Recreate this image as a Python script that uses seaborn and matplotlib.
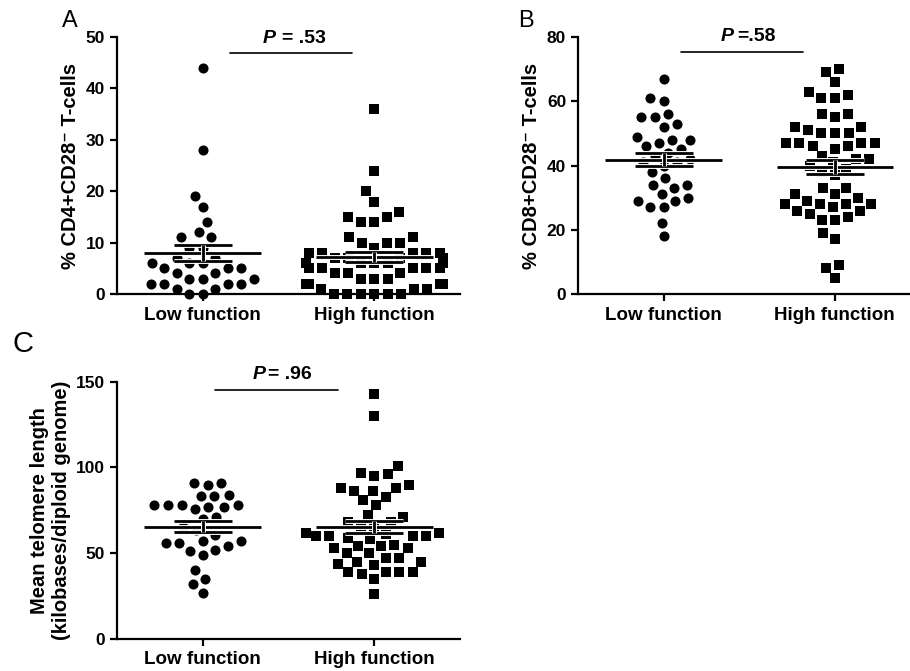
"""
Column scatter plots (mean +/- SEM) for low vs high function groups.
Panels: A = CD4+CD28- T-cells, B = CD8+CD28- T-cells, C = telomere length.
"""
import numpy as np
import pandas as pd
import matplotlib
matplotlib.use("Agg")
import matplotlib.pyplot as plt
import matplotlib.patheffects as pe
from matplotlib.path import Path
import seaborn as sns

GROUPS = ["Low function", "High function"]

CD4_LOW = [44, 28, 19, 17, 14, 12, 11, 11, 9, 9, 7, 7, 6, 6, 6, 5, 5, 5,
           4, 4, 3, 3, 3, 2, 2, 2, 2, 1, 1, 0, 0]
CD4_HIGH = [36, 24, 20, 18, 16, 15, 15, 14, 14, 11, 11, 10, 10, 10, 9,
            8, 8, 8, 8, 8, 7, 7, 7, 7, 6, 6, 6, 6, 6, 6, 5, 5, 5, 5, 5,
            4, 4, 4, 3, 3, 3, 2, 2, 2, 2, 2, 1, 1, 1, 0, 0, 0, 0, 0, 0]

CD8_LOW = [67, 61, 60, 56, 55, 55, 53, 52, 49, 48, 48, 47, 46, 45, 44, 43,
           42, 41, 41, 40, 38, 36, 34, 34, 33, 31, 30, 29, 29, 27, 27, 22, 18]
CD8_HIGH = [70, 69, 66, 63, 62, 61, 61, 56, 56, 55, 52, 52, 51, 50, 50, 50,
            47, 47, 47, 47, 46, 46, 45, 43, 42, 42, 41, 40, 39, 38, 37,
            33, 33, 31, 31, 30, 29, 28, 28, 28, 28, 27, 26, 26, 25, 24, 23,
            23, 19, 17, 9, 8, 5]

TL_LOW = [91, 90, 91, 84, 83.5, 83.5, 78, 78, 77, 76, 77, 78, 78, 71, 70,
          65.5, 63.5, 60.5, 57, 56, 52, 49, 51.5, 54, 56, 57, 40, 35, 32, 27]
TL_HIGH = [143, 130, 101, 97, 96, 95, 90, 88, 88, 86.5, 86, 83, 81, 78, 72,
           71, 68, 68, 65.5, 65.5, 61.5, 61.5, 60, 60, 60, 60, 61, 59, 58,
           55, 54, 54, 53, 53, 50, 50, 47, 47, 45, 45, 44, 43, 39, 39, 39,
           39, 38, 35, 26]

P_VALUES = ["= .53", "=.58", "= .96"]

HALO = [pe.withStroke(linewidth=3.5, foreground="white")]
SWARM_SIZE = 9.3    # spacing used by the swarm layout
SHRINK = 0.78       # drawn marker is this fraction of the layout size


def _padded_marker(kind):
    # marker drawn smaller than its nominal size, so the swarm leaves gaps
    pad_v = [(-1, -1), (1, 1)]
    pad_c = [Path.MOVETO, Path.MOVETO]
    if kind == "o":
        circ = Path.unit_circle()
        verts = list(circ.vertices * SHRINK) + pad_v
        codes = list(circ.codes) + pad_c
    else:
        s = SHRINK
        verts = [(-s, -s), (s, -s), (s, s), (-s, s), (-s, -s)] + pad_v
        codes = [Path.MOVETO, Path.LINETO, Path.LINETO, Path.LINETO,
                 Path.CLOSEPOLY] + pad_c
    return Path(verts, codes)


def draw_panel(ax, low, high, ymax, ystep, ylabel, p_text, p_line, p_y, xmax=1.5):
    for vals, grp, marker in ((low, GROUPS[0], "o"), (high, GROUPS[1], "s")):
        df = pd.DataFrame({"group": grp, "value": vals})
        sns.swarmplot(data=df, x="group", y="value", order=GROUPS, color="black",
                      marker=_padded_marker(marker), size=SWARM_SIZE,
                      linewidth=0, ax=ax)
    for coll in ax.collections:
        coll.set_clip_on(False)

    # mean +/- SEM
    for i, vals in enumerate((low, high)):
        v = np.asarray(vals, dtype=float)
        m = v.mean()
        sem = v.std(ddof=1) / np.sqrt(len(v))
        kw = dict(color="black", linewidth=2, path_effects=HALO, zorder=5)
        ax.hlines(m, i - 0.34, i + 0.34, **kw)
        ax.hlines([m - sem, m + sem], i - 0.17, i + 0.17, **kw)
        ax.vlines(i, m - sem, m + sem, **kw)

    # significance bar
    x0, x1, xp, xe = p_line
    ax.plot([x0, x1], [p_y, p_y], color="black", linewidth=1.2, clip_on=False)
    ty = p_y + ymax * 0.025
    ax.text(xp, ty, "P", style="italic", fontweight="bold", fontsize=14,
            ha="right", va="bottom")
    ax.text(xe, ty, p_text, fontweight="bold", fontsize=14, ha="left", va="bottom")

    ax.set_xlim(-0.5, xmax)
    ax.set_ylim(0, ymax)
    ax.set_yticks(np.arange(0, ymax + 1, ystep))
    ax.set_xlabel("")
    ax.set_ylabel(ylabel, fontsize=14.5, fontweight="bold")
    sns.despine(ax=ax)
    for side in ("left", "bottom"):
        ax.spines[side].set_linewidth(1.6)
        ax.spines[side].set_color("black")
    ax.tick_params(axis="both", width=1.6, length=5, labelsize=12.5, colors="black")
    ax.tick_params(axis="x", labelsize=13.5, pad=4)
    for lbl in ax.get_xticklabels() + ax.get_yticklabels():
        lbl.set_fontweight("bold")


def main():
    sns.set_style("ticks")
    plt.rcParams["font.family"] = ["Liberation Sans", "DejaVu Sans"]
    plt.rcParams["text.color"] = "black"
    plt.rcParams["axes.labelcolor"] = "black"

    fig = plt.figure(figsize=(9.1, 6.71), dpi=100)
    ax_a = fig.add_axes([0.1286, 0.5618, 0.3769, 0.3830])
    ax_b = fig.add_axes([0.6352, 0.5618, 0.3648, 0.3830])
    ax_c = fig.add_axes([0.1286, 0.0477, 0.3769, 0.3835])

    draw_panel(ax_a, CD4_LOW, CD4_HIGH, 50, 10, "% CD4+CD28⁻ T-cells",
               P_VALUES[0], (0.158, 0.871, 0.427, 0.462), 46.9)
    draw_panel(ax_b, CD8_LOW, CD8_HIGH, 80, 20, "% CD8+CD28⁻ T-cells",
               P_VALUES[1], (0.1, 0.813, 0.409, 0.433), 75.4, xmax=1.44)
    draw_panel(ax_c, TL_LOW, TL_HIGH, 150, 50,
               "Mean telomere length\n(kilobases/diploid genome)",
               P_VALUES[2], (0.07, 0.79, 0.365, 0.382), 145.4)

    fig.text(0.068, 0.985, "A", fontsize=17, va="top", ha="left")
    fig.text(0.569, 0.985, "B", fontsize=17, va="top", ha="left")
    fig.text(0.014, 0.508, "C", fontsize=21, va="top", ha="left")

    fig.savefig("out.png", dpi=100)


if __name__ == "__main__":
    main()
